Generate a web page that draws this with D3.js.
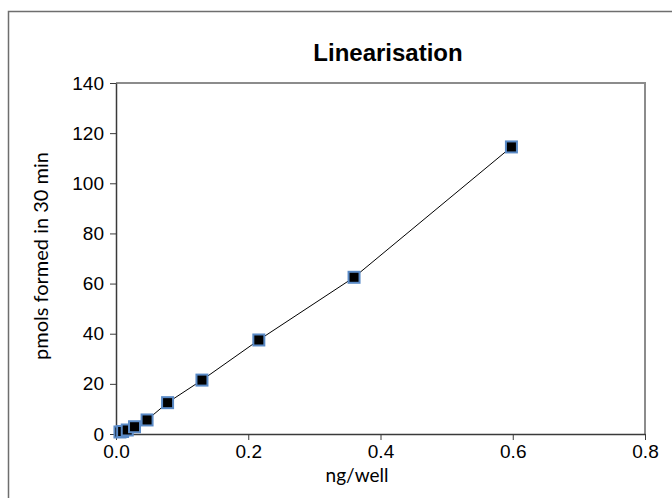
<!DOCTYPE html>
<html>
<head>
<meta charset="utf-8">
<script src="https://cdn.jsdelivr.net/npm/d3@7"></script>
<style>
  html, body { margin: 0; padding: 0; background: #fff; }
  svg { display: block; }
</style>
</head>
<body>
<svg id="chart" width="672" height="498"></svg>
<script>
// ---- data ----
const xValues = [0.006, 0.010, 0.017, 0.028, 0.047, 0.078, 0.130, 0.216, 0.360, 0.598];
const yValues = [0.8, 1.0, 1.6, 2.9, 5.6, 12.5, 21.5, 37.5, 62.5, 114.5];
const xTicks = [0, 0.2, 0.4, 0.6, 0.8];
const yTicks = [0, 20, 40, 60, 80, 100, 120, 140];
const titleText = "Linearisation";
const xLabel = "ng/well";
const yLabel = "pmols formed in 30 min";

const svg = d3.select("#chart");
const W = 672, H = 498;
const m = { left: 116, right: 645, top: 83, bottom: 434 };

// outer frame
svg.append("rect")
  .attr("x", 8.5).attr("y", 11.5)
  .attr("width", W + 10).attr("height", H + 10)
  .attr("fill", "#fff").attr("stroke", "#6e6e6e").attr("stroke-width", 1.5);

const x = d3.scaleLinear().domain([0, 0.8]).range([m.left, m.right]);
const y = d3.scaleLinear().domain([0, 140]).range([m.bottom, m.top]);

// plot frame top/right (grey)
svg.append("path")
  .attr("d", `M${m.left},${m.top}H${m.right}V${m.bottom}`)
  .attr("fill", "none").attr("stroke", "#8c8c8c").attr("stroke-width", 2);

// axes
const xAxis = svg.append("g")
  .attr("transform", `translate(0,${m.bottom})`)
  .call(d3.axisBottom(x).tickValues(xTicks).tickFormat(d3.format(".1f")).tickSizeOuter(0).tickSizeInner(6).tickPadding(5));
const yAxis = svg.append("g")
  .attr("transform", `translate(${m.left},0)`)
  .call(d3.axisLeft(y).tickValues(yTicks).tickFormat(d3.format("d")).tickSizeOuter(0).tickSizeInner(6).tickPadding(6));

[xAxis, yAxis].forEach(g => {
  g.select(".domain").attr("stroke", "#3a3a3a").attr("stroke-width", 1.5);
  g.selectAll(".tick line").attr("stroke", "#3a3a3a").attr("stroke-width", 1);
  g.selectAll(".tick text")
    .attr("font-family", "Liberation Sans, Arial, sans-serif")
    .attr("font-size", 19).attr("fill", "#000");
});

// line through points
const pts = xValues.map((v, i) => [v, yValues[i]]);
svg.append("path")
  .datum(pts)
  .attr("d", d3.line().x(d => x(d[0])).y(d => y(d[1])))
  .attr("fill", "none").attr("stroke", "#000").attr("stroke-width", 1);

// markers
const s = 11;
svg.append("g").selectAll("rect")
  .data(pts).join("rect")
  .attr("x", d => x(d[0]) - s / 2).attr("y", d => y(d[1]) - s / 2)
  .attr("width", s).attr("height", s)
  .attr("fill", "#000").attr("stroke", "#5a8ac6").attr("stroke-width", 2);

// title
svg.append("text")
  .attr("x", 388).attr("y", 61).attr("text-anchor", "middle")
  .attr("font-family", "Liberation Sans, Arial, sans-serif")
  .attr("font-weight", "bold").attr("font-size", 24)
  .text(titleText);

// axis labels
svg.append("text")
  .attr("x", 357).attr("y", 482).attr("text-anchor", "middle")
  .attr("font-family", "Lato, sans-serif").attr("font-size", 19)
  .text(xLabel);
svg.append("text")
  .attr("transform", "translate(48,256) rotate(-90)")
  .attr("text-anchor", "middle")
  .attr("font-family", "Lato, sans-serif").attr("font-size", 20)
  .text(yLabel);
</script>
</body>
</html>
